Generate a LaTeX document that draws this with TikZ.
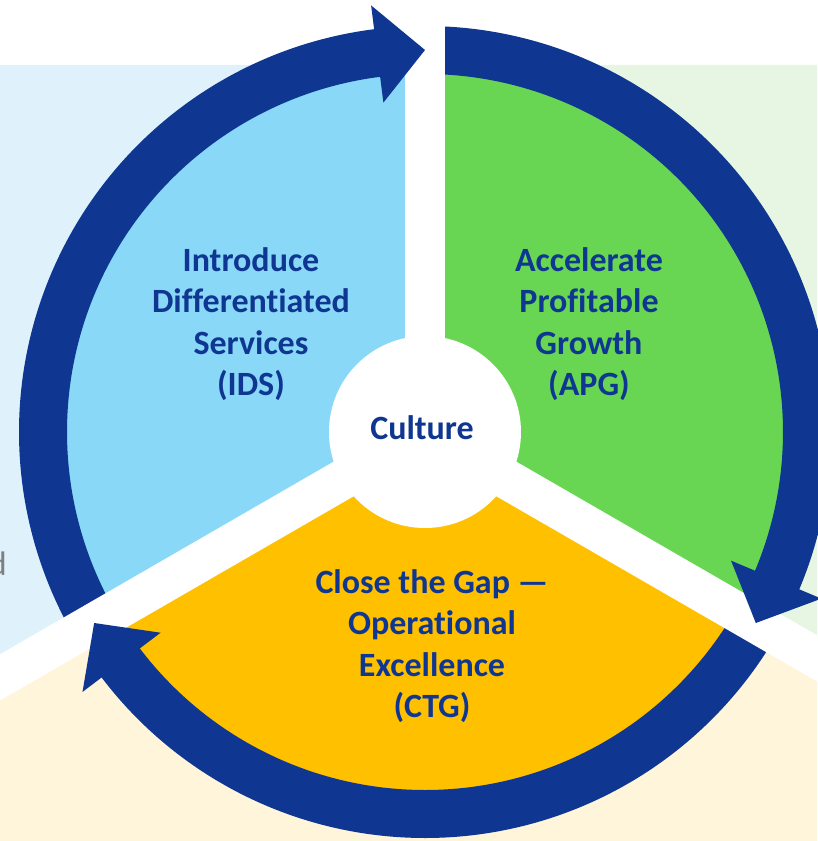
\documentclass[tikz,border=0pt]{standalone}
\usepackage{fontspec}
\setmainfont{Carlito}[Ligatures=NoCommon]
\definecolor{ringblue}{HTML}{0F3792}
\definecolor{idsblue}{HTML}{89D8F8}
\definecolor{apggreen}{HTML}{68D653}
\definecolor{ctgyellow}{HTML}{FFC000}
\definecolor{bgblue}{HTML}{DFF2FC}
\definecolor{bggreen}{HTML}{E6F6E2}
\definecolor{bgbeige}{HTML}{FFF5DB}
\definecolor{cuttext}{HTML}{7F7F7F}

\begin{document}
\begin{tikzpicture}[x=1pt,y=1pt,
    pietext/.style={font=\bfseries\fontsize{34}{41.5}\selectfont, text=ringblue, align=center, inner sep=0pt},
    ring/.style={draw=ringblue, line width=48pt},
    gap/.style={draw=white, line width=40pt}]
    \useasboundingbox (-425,-409) rectangle (392,432);
    \fill[bgblue] (0,0) -- (0,367) -- (-425,367) -- (-425,-245.4) -- cycle;
    \fill[bggreen] (0,0) -- (0,367) -- (392,367) -- (392,-226.3) -- cycle;
    \fill[bgbeige] (0,0) -- (-425,-245.4) -- (-425,-409) -- (392,-409) -- (392,-226.3) -- cycle;
    \fill[idsblue] (0,0) -- (90:370) arc[start angle=90,end angle=210,radius=370] -- cycle;
    \fill[apggreen] (0,0) -- (-30:370) arc[start angle=-30,end angle=90,radius=370] -- cycle;
    \fill[ctgyellow] (0,0) -- (210:370) arc[start angle=210,end angle=330,radius=370] -- cycle;
    \draw[ring] (210:382) arc[start angle=210,end angle=97,radius=382];
    \draw[ring] (90:382) arc[start angle=90,end angle=-23,radius=382];
    \draw[ring] (-30:382) arc[start angle=-30,end angle=-143,radius=382];
    \foreach \a in {90,210,330}
        \draw[gap] (0,0) -- (\a:650);
    \foreach \a in {90,-30,210}
        \fill[ringblue] (\a+7.2:332) -- (\a:382) -- (\a+7.2:430) -- cycle;
    \node[circle, fill=white, minimum size=192pt, inner sep=0pt] (hub) at (0,0) {};
    \node[pietext] (culture) at (-3,4) {Culture};
    \node[pietext] (ids) at (-174,108) {Introduce\\Differentiated\\Services\\(IDS)};
    \node[pietext] (apg) at (164,108) {Accelerate\\Profitable\\Growth\\(APG)};
    \node[pietext] (ctg) at (7,-214) {Close the Gap —\\Operational\\Excellence\\(CTG)};
    \node[font=\fontsize{34}{41.5}\selectfont, text=cuttext, anchor=base east, inner sep=0pt] (cut) at (-418,-143) {d};
\end{tikzpicture}
\end{document}
